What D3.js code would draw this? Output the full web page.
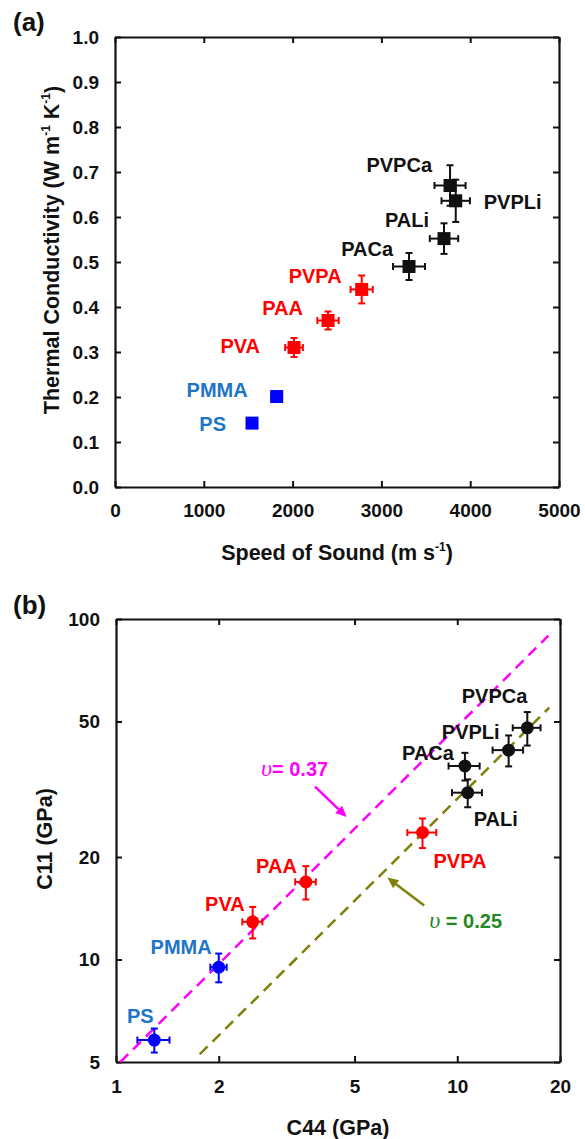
<!DOCTYPE html>
<html lang="en">
<head>
<meta charset="UTF-8">
<title>Thermal conductivity and elastic constants</title>
<script src="https://cdn.jsdelivr.net/npm/d3@7"></script>
<style>
  body { margin: 0; background: #fff; }
  svg { display: block; font-family: "Liberation Sans", Arial, sans-serif; font-weight: bold; }
  .axis .domain { stroke: #111; stroke-width: 2.2px; }
  .axis line { stroke: #111; stroke-width: 2px; }
  .axis text { font-family: "Liberation Sans", Arial, sans-serif; font-size: 19px; font-weight: bold; fill: #111; }
</style>
</head>
<body>
<script>
// ---- data ----
// panel (a): thermal conductivity vs speed of sound
var polymersA = ["PS", "PMMA", "PVA", "PAA", "PVPA", "PACa", "PALi", "PVPCa", "PVPLi"];
var groupA = ["neutral", "neutral", "acid", "acid", "acid", "salt", "salt", "salt", "salt"];
var speedA = [1543, 1821, 2016, 2399, 2778, 3311, 3705, 3773, 3837];
var speedErrA = [40, 60, 100, 120, 125, 180, 160, 175, 160];
var kappaA = [0.142, 0.201, 0.310, 0.370, 0.439, 0.490, 0.552, 0.670, 0.636];
var kappaErrA = [0, 0.006, 0.021, 0.020, 0.031, 0.030, 0.034, 0.045, 0.047];
var xTicksA = [0, 1000, 2000, 3000, 4000, 5000];
var yTicksA = [0, 0.1, 0.2, 0.3, 0.4, 0.5, 0.6, 0.7, 0.8, 0.9, 1.0];

// panel (b): C11 vs C44 (GPa), log-log
var polymersB = ["PS", "PMMA", "PVA", "PAA", "PVPA", "PALi", "PACa", "PVPLi", "PVPCa"];
var groupB = ["neutral", "neutral", "acid", "acid", "acid", "salt", "salt", "salt", "salt"];
var c44B = [1.295, 2.0, 2.515, 3.60, 7.91, 10.73, 10.53, 14.14, 16.04];
var c44ErrB = [0.14, 0.11, 0.17, 0.25, 0.77, 1.08, 1.1, 1.45, 1.5];
var c11B = [5.80, 9.49, 12.9, 16.9, 23.6, 30.9, 37.0, 41.2, 47.9];
var c11ErrB = [0.47, 0.92, 1.37, 1.9, 2.35, 2.9, 3.45, 4.3, 5.4];
var xTicksB = [1, 2, 5, 10, 20];
var yTicksB = [5, 10, 20, 50, 100];

// Poisson ratio reference lines (end points)
var nuLabels = ["0.37", "0.25"];
var nuLineC44 = [[1.03, 18.5], [1.76, 18.6]];
var nuLineC11 = [[5.0, 89.4], [5.27, 54.9]];
// arrow start / end and label anchor, in data units
var nuArrowC44 = [[3.83, 4.74], [8.0, 6.24]];
var nuArrowC11 = [[32.2, 26.2], [14.4, 17.4]];
var nuTextAt = [[2.66, 36.0], [8.28, 12.9]];

// ---- layout ----
var W = 585, H = 1139;
var groupColor = d3.scaleOrdinal()
  .domain(["neutral", "acid", "salt"])
  .range(["#0000ff", "#ff0000", "#111111"]);
var labelColor = d3.scaleOrdinal()
  .domain(["neutral", "acid", "salt"])
  .range(["#1e74c6", "#ff0000", "#111111"]);
var nuLineColor = ["#ff00ff", "#7f7f0a"];
var nuTextColor = ["#ff00ff", "#1f8a1f"];

// label offsets (px) from each marker: [dx, dy, anchor]
var labelPosA = [[-26, 1, "end"], [-29, -7, "end"], [-34, -2, "end"], [-25, -13, "end"],
  [-20, -14, "end"], [-16, -18, "end"], [-15, -19, "end"], [-18, -21, "end"], [28, 1, "start"]];
var labelPosB = [[-14, -24, "middle"], [-7, -20, "end"], [-8, -18, "end"], [-9, -16, "end"],
  [11, 28, "start"], [6, 26, "start"], [-11, -13, "end"], [-9, -18, "end"], [0, -32, "end"]];

var svg = d3.select("body").append("svg")
  .attr("width", W)
  .attr("height", H);

svg.append("rect").attr("width", W).attr("height", H).attr("fill", "#fff");

// draw the four sides of the frame with inward ticks
function frame(g, x, y, xt, yt, fmtX, fmtY, padX, padY) {
  var x0 = x.range()[0], x1 = x.range()[1];
  var y0 = y.range()[0], y1 = y.range()[1];
  g.append("g").attr("class", "axis")
    .attr("transform", "translate(0," + y0 + ")")
    .call(d3.axisBottom(x).tickValues(xt).tickFormat(fmtX).tickSizeInner(-6).tickSizeOuter(0).tickPadding(padX));
  g.append("g").attr("class", "axis")
    .attr("transform", "translate(0," + y1 + ")")
    .call(d3.axisTop(x).tickValues(xt).tickFormat("").tickSizeInner(-6).tickSizeOuter(0));
  g.append("g").attr("class", "axis")
    .attr("transform", "translate(" + x0 + ",0)")
    .call(d3.axisLeft(y).tickValues(yt).tickFormat(fmtY).tickSizeInner(-6).tickSizeOuter(0).tickPadding(padY));
  g.append("g").attr("class", "axis")
    .attr("transform", "translate(" + x1 + ",0)")
    .call(d3.axisRight(y).tickValues(yt).tickFormat("").tickSizeInner(-6).tickSizeOuter(0));
}

// error bars with caps
function errorBars(g, pts, color) {
  var cap = 3.5;
  var eb = g.selectAll(null).data(pts).enter().append("g")
    .attr("stroke", function(d) { return color(d.group); })
    .attr("stroke-width", 2);
  eb.append("line")
    .attr("x1", function(d) { return d.xl; }).attr("x2", function(d) { return d.xr; })
    .attr("y1", function(d) { return d.y; }).attr("y2", function(d) { return d.y; });
  eb.append("line")
    .attr("x1", function(d) { return d.x; }).attr("x2", function(d) { return d.x; })
    .attr("y1", function(d) { return d.yt; }).attr("y2", function(d) { return d.yb; });
  [["xl", "y"], ["xr", "y"]].forEach(function(k) {
    eb.append("line")
      .attr("x1", function(d) { return d[k[0]]; }).attr("x2", function(d) { return d[k[0]]; })
      .attr("y1", function(d) { return d.y - cap; }).attr("y2", function(d) { return d.y + cap; });
  });
  ["yt", "yb"].forEach(function(k) {
    eb.append("line")
      .attr("x1", function(d) { return d.x - cap; }).attr("x2", function(d) { return d.x + cap; })
      .attr("y1", function(d) { return d[k]; }).attr("y2", function(d) { return d[k]; });
  });
}

function pointLabels(g, pts, pos) {
  g.selectAll(null).data(pts).enter().append("text")
    .attr("x", function(d, i) { return d.x + pos[i][0]; })
    .attr("y", function(d, i) { return d.y + pos[i][1]; })
    .attr("dy", "0.36em")
    .attr("text-anchor", function(d, i) { return pos[i][2]; })
    .attr("font-size", "20px")
    .attr("fill", function(d) { return labelColor(d.group); })
    .text(function(d) { return d.name; });
}

// ================= panel (a) =================
var xA = d3.scaleLinear().domain([0, 5000]).range([115, 559]);
var yA = d3.scaleLinear().domain([0, 1]).range([487, 37]);
var gA = svg.append("g");

svg.append("text").attr("x", 13).attr("y", 31).attr("font-size", "26px").attr("fill", "#111").text("(a)");

frame(gA, xA, yA, xTicksA, yTicksA, d3.format("d"), d3.format(".1f"), 17, 16);

var ptsA = polymersA.map(function(n, i) {
  return {
    name: n, group: groupA[i],
    x: xA(speedA[i]), y: yA(kappaA[i]),
    xl: xA(speedA[i] - speedErrA[i]), xr: xA(speedA[i] + speedErrA[i]),
    yt: yA(kappaA[i] + kappaErrA[i]), yb: yA(kappaA[i] - kappaErrA[i])
  };
});

// PS bars are hidden behind its marker
errorBars(gA, ptsA.filter(function(d) { return d.xr - d.xl > 9; }), groupColor);

gA.selectAll("rect.mk").data(ptsA).enter().append("rect")
  .attr("class", "mk")
  .attr("x", function(d) { return d.x - 6.5; })
  .attr("y", function(d) { return d.y - 6.5; })
  .attr("width", 13).attr("height", 13)
  .attr("fill", function(d) { return groupColor(d.group); });

pointLabels(gA, ptsA, labelPosA);

// axis titles (a)
var tA = svg.append("text")
  .attr("text-anchor", "middle")
  .attr("transform", "translate(51,250) rotate(-90)")
  .attr("dy", "0.36em")
  .attr("font-size", "21.5px").attr("fill", "#111");
tA.append("tspan").text("Thermal Conductivity (W m");
tA.append("tspan").attr("font-size", "12px").attr("dy", "-0.75em").text("-1");
tA.append("tspan").attr("dy", "0.45em").text(" K");
tA.append("tspan").attr("font-size", "12px").attr("dy", "-0.75em").text("-1");
tA.append("tspan").attr("dy", "0.45em").text(")");

var xtA = svg.append("text")
  .attr("x", 337).attr("y", 552).attr("dy", "0.36em")
  .attr("text-anchor", "middle")
  .attr("font-size", "21.5px").attr("fill", "#111");
xtA.append("tspan").text("Speed of Sound (m s");
xtA.append("tspan").attr("font-size", "12px").attr("dy", "-0.75em").text("-1");
xtA.append("tspan").attr("dy", "0.45em").text(")");

// ================= panel (b) =================
var xB = d3.scaleLog().domain([1, 20]).range([116, 560]);
var yB = d3.scaleLog().domain([5, 100]).range([1062, 619]);
var gB = svg.append("g");

svg.append("text").attr("x", 13).attr("y", 614).attr("font-size", "26px").attr("fill", "#111").text("(b)");

frame(gB, xB, yB, xTicksB, yTicksB, d3.format("d"), d3.format("d"), 18, 16);

// Poisson ratio lines
nuLabels.forEach(function(lab, i) {
  gB.append("line")
    .attr("x1", xB(nuLineC44[i][0])).attr("y1", yB(nuLineC11[i][0]))
    .attr("x2", xB(nuLineC44[i][1])).attr("y2", yB(nuLineC11[i][1]))
    .attr("stroke", nuLineColor[i])
    .attr("stroke-width", 2.5)
    .attr("stroke-dasharray", "11,7");
});

// arrows pointing at the lines
nuLabels.forEach(function(lab, i) {
  var x1 = xB(nuArrowC44[i][0]), y1 = yB(nuArrowC11[i][0]);
  var x2 = xB(nuArrowC44[i][1]), y2 = yB(nuArrowC11[i][1]);
  var ang = Math.atan2(y2 - y1, x2 - x1);
  var hl = 11, hw = 5;
  var bx = x2 - hl * Math.cos(ang), by = y2 - hl * Math.sin(ang);
  gB.append("line")
    .attr("x1", x1).attr("y1", y1).attr("x2", bx).attr("y2", by)
    .attr("stroke", nuLineColor[i]).attr("stroke-width", 2.5);
  gB.append("path")
    .attr("d", "M" + x2 + "," + y2 +
      "L" + (bx + hw * Math.sin(ang)) + "," + (by - hw * Math.cos(ang)) +
      "L" + (bx - hw * Math.sin(ang)) + "," + (by + hw * Math.cos(ang)) + "Z")
    .attr("fill", nuLineColor[i]);
  var t = gB.append("text")
    .attr("x", xB(nuTextAt[i][0])).attr("y", yB(nuTextAt[i][1]))
    .attr("dy", "0.36em")
    .attr("fill", nuTextColor[i]);
  t.append("tspan")
    .attr("font-family", "'Liberation Serif', 'DejaVu Serif', serif")
    .attr("font-style", "italic").attr("font-weight", "normal")
    .attr("font-size", "24px").text("\u03C5");
  t.append("tspan").attr("font-size", "20px").text(i === 0 ? "= " + lab : " = " + lab);
});

var ptsB = polymersB.map(function(n, i) {
  return {
    name: n, group: groupB[i],
    x: xB(c44B[i]), y: yB(c11B[i]),
    xl: xB(c44B[i] - c44ErrB[i]), xr: xB(c44B[i] + c44ErrB[i]),
    yt: yB(c11B[i] + c11ErrB[i]), yb: yB(c11B[i] - c11ErrB[i])
  };
});

errorBars(gB, ptsB, groupColor);

gB.selectAll("circle.mk").data(ptsB).enter().append("circle")
  .attr("class", "mk")
  .attr("cx", function(d) { return d.x; })
  .attr("cy", function(d) { return d.y; })
  .attr("r", 6.5)
  .attr("fill", function(d) { return groupColor(d.group); });

pointLabels(gB, ptsB, labelPosB);

// axis titles (b)
svg.append("text")
  .attr("text-anchor", "middle")
  .attr("transform", "translate(44,839) rotate(-90)")
  .attr("dy", "0.36em")
  .attr("font-size", "21.5px").attr("fill", "#111")
  .text("C11 (GPa)");

svg.append("text")
  .attr("x", 338).attr("y", 1127).attr("dy", "0.36em")
  .attr("text-anchor", "middle")
  .attr("font-size", "21.5px").attr("fill", "#111")
  .text("C44 (GPa)");
</script>
</body>
</html>
